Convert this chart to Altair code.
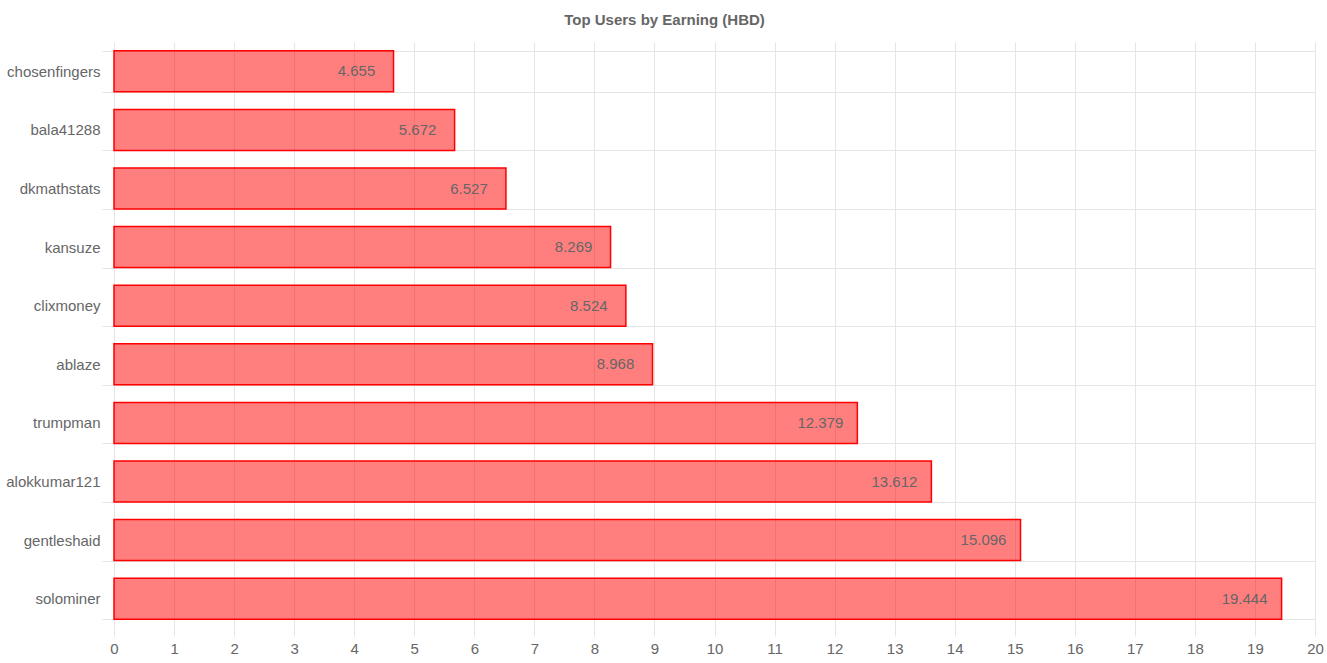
import altair as alt
import pandas as pd

users = ["chosenfingers", "bala41288", "dkmathstats", "kansuze", "clixmoney",
         "ablaze", "trumpman", "alokkumar121", "gentleshaid", "solominer"]
earnings = [4.655, 5.672, 6.527, 8.269, 8.524, 8.968, 12.379, 13.612, 15.096, 19.444]
labels = ["4.655", "5.672", "6.527", "8.269", "8.524", "8.968", "12.379", "13.612", "15.096", "19.444"]
x_ticks = list(range(0, 21))

df = pd.DataFrame({"user": users, "hbd": earnings, "label": labels})

FONT = "Liberation Sans"
GRID = "#e5e5e5"

y_enc = alt.Y(
    "user:N",
    sort=users,
    title=None,
    scale=alt.Scale(paddingInner=0.3, paddingOuter=0.15),
    axis=alt.Axis(
        domain=False, tickBand="extent", grid=True, gridColor=GRID,
        tickColor=GRID, tickSize=12, labelPadding=2,
        labelFont=FONT, labelFontSize=15, labelColor="#666666",
    ),
)
x_enc = alt.X(
    "hbd:Q",
    title=None,
    scale=alt.Scale(domain=[0, 20], nice=False),
    axis=alt.Axis(
        values=x_ticks, format="d", domain=False, grid=True, gridColor=GRID,
        tickColor=GRID, tickSize=8, labelPadding=5, labelFlush=False,
        labelFont=FONT, labelFontSize=15, labelColor="#666666",
    ),
)

bars = alt.Chart(df).mark_bar(
    color="red", fillOpacity=0.5, stroke="red", strokeWidth=1.5
).encode(x=x_enc, y=y_enc)

text = alt.Chart(df).mark_text(
    align="center", baseline="middle", dx=-37,
    font=FONT, fontSize=15, color="#666666"
).encode(x="hbd:Q", y=alt.Y("user:N", sort=users), text="label:N")

chart = (bars + text).properties(
    width=1201,
    height=586,
    autosize=alt.AutoSizeParams(type="none"),
    padding={"left": 114, "top": 42, "right": 12, "bottom": 35},
    title=alt.TitleParams(
        "Top Users by Earning (HBD)", font=FONT, fontSize=15, fontWeight="bold",
        color="#666666", anchor="middle", dx=-50, offset=7,
    ),
).configure_view(stroke=None)

chart.save("out.html", embed_options={"renderer": "svg", "actions": False})
